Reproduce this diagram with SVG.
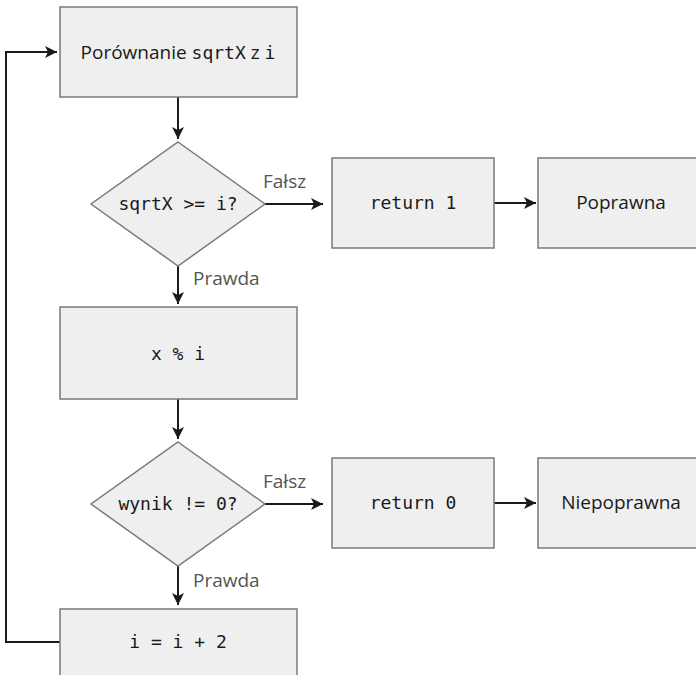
<svg xmlns="http://www.w3.org/2000/svg" width="696" height="675" viewBox="0 0 696 675">
<style>
.box{fill:#efefef;stroke:#7a7a7a;stroke-width:1.5}
.sans{font-family:"Open Sans","Noto Sans",sans-serif;font-size:19px;fill:#1a1a1a}
.mono{font-family:"DejaVu Sans Mono","Liberation Mono",monospace;font-size:18px;fill:#1a1a1a}
.lbl{font-family:"Open Sans","Noto Sans",sans-serif;font-size:19px;fill:#555}
.con{fill:none;stroke:#1a1a1a;stroke-width:2}
</style>
<defs>
<marker id="ah" viewBox="0 0 10 10" refX="10" refY="5" markerWidth="6" markerHeight="6" markerUnits="strokeWidth" orient="auto">
<path d="M0,0 L10,5 L0,10 L2.5,5 Z" fill="#1a1a1a"/>
</marker>
</defs>
<g id="connectors">
<path class="con" d="M178,97 V139" marker-end="url(#ah)"/>
<path class="con" d="M264,204 H323" marker-end="url(#ah)"/>
<path class="con" d="M494,203 H536" marker-end="url(#ah)"/>
<path class="con" d="M178,266 V304" marker-end="url(#ah)"/>
<path class="con" d="M178,399 V439" marker-end="url(#ah)"/>
<path class="con" d="M264,504 H323" marker-end="url(#ah)"/>
<path class="con" d="M494,503 H536" marker-end="url(#ah)"/>
<path class="con" d="M178,566 V605" marker-end="url(#ah)"/>
<path class="con" d="M60,642 H6 V52 H57" marker-end="url(#ah)"/>
<text class="lbl" x="263" y="188">Fałsz</text>
<text class="lbl" x="193" y="285">Prawda</text>
<text class="lbl" x="263" y="488">Fałsz</text>
<text class="lbl" x="193" y="587">Prawda</text>
</g>
<g id="n1">
<rect class="box" x="60" y="7" width="237" height="90"/>
<text x="178" y="59" text-anchor="middle"><tspan class="sans">Porównanie </tspan><tspan class="mono">sqrtX</tspan><tspan class="sans"> z </tspan><tspan class="mono">i</tspan></text>
</g>
<g id="d1">
<polygon class="box" points="178,142 265,204 178,266 91,204"/>
<text class="mono" x="178" y="210" text-anchor="middle">sqrtX &gt;= i?</text>
</g>
<g id="r1">
<rect class="box" x="332" y="158" width="162" height="90"/>
<text class="mono" x="413" y="209" text-anchor="middle">return 1</text>
</g>
<g id="p1">
<rect class="box" x="538" y="158" width="162" height="90"/>
<text class="sans" x="621" y="209" text-anchor="middle">Poprawna</text>
</g>
<g id="n2">
<rect class="box" x="60" y="307" width="237" height="92"/>
<text class="mono" x="178" y="360" text-anchor="middle">x % i</text>
</g>
<g id="d2">
<polygon class="box" points="178,442 265,504 178,566 91,504"/>
<text class="mono" x="178" y="510" text-anchor="middle">wynik != 0?</text>
</g>
<g id="r0">
<rect class="box" x="332" y="458" width="162" height="90"/>
<text class="mono" x="413" y="509" text-anchor="middle">return 0</text>
</g>
<g id="p0">
<rect class="box" x="538" y="458" width="162" height="90"/>
<text class="sans" x="621" y="509" text-anchor="middle">Niepoprawna</text>
</g>
<g id="n3">
<rect class="box" x="60" y="609" width="237" height="70"/>
<text class="mono" x="178" y="648" text-anchor="middle">i = i + 2</text>
</g>
</svg>
